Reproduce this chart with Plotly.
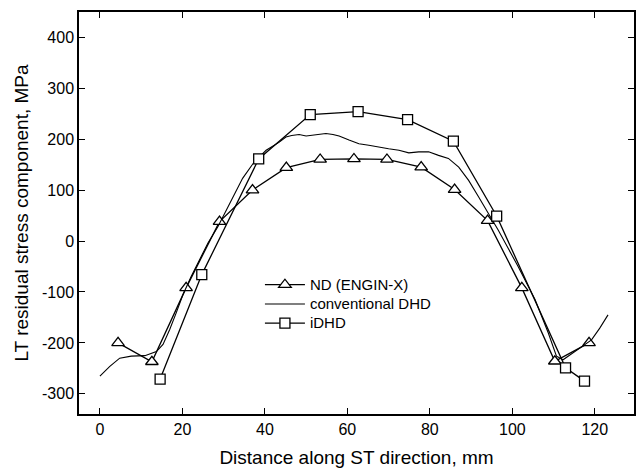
import plotly.graph_objects as go

# ND (ENGIN-X)
nd_x = [4.4, 12.6, 20.9, 29.0, 37.0, 45.2, 53.4, 61.6, 69.6, 77.9, 86.0, 94.0, 102.3, 110.3, 118.6]
nd_y = [-200, -237, -92, 38, 100, 144, 160, 161, 160, 145, 101, 40, -92, -236, -200]

# conventional DHD
dhd_x = [0, 2.4, 4.8, 7.6, 10.9, 13.7, 15.3, 16.9, 18.5, 20.1, 22.1, 23.7, 26.2, 28.6,
         32.2, 34.6, 37.4, 40.3, 43.5, 45.1, 46.5, 48.3, 50.0, 51.5, 53.0, 54.8, 56.5, 58.0,
         60.4, 62.8, 65.2, 67.6, 70.0, 72.5, 74.9, 77.3, 79.7, 82.1, 84.5, 87.0,
         89.4, 91.8, 94.2, 96.6, 101.4, 105.5, 108.7, 110.7, 112.3, 115.9, 119.2, 121.2, 123.2]
dhd_y = [-265, -246, -230, -226, -225, -217, -203, -174, -141, -106, -70, -44, -4, 28,
         87, 123, 155, 178, 194, 204, 207, 209, 206, 208, 210, 211, 209, 206,
         198, 191, 188, 184, 181, 178, 173, 175, 175, 168, 162, 145,
         119, 87, 54, 21, -50, -115, -180, -226, -233, -213, -194, -171, -145]

# iDHD
idhd_x = [14.6, 24.7, 38.5, 51.0, 62.6, 74.6, 85.7, 96.2, 112.9, 117.5]
idhd_y = [-271, -66, 161, 248, 254, 238, 196, 49, -249, -275]

x_ticks = [0, 20, 40, 60, 80, 100, 120]
y_ticks = [-300, -200, -100, 0, 100, 200, 300, 400]
y_tick_labels = ["-300", "-200", "-100", "0", "100", "200", "300", "400"]

FONT = "Liberation Sans, Arial, sans-serif"


def leg(name):
    return '<span style="font-size:15px">' + name + '</span>'


fig = go.Figure()
fig.add_trace(go.Scatter(
    x=nd_x, y=nd_y, mode="lines+markers", name=leg("ND (ENGIN-X)"),
    line=dict(color="black", width=1.3),
    marker=dict(symbol="triangle-up", size=11, color="white",
                line=dict(color="black", width=1.3)),
))
fig.add_trace(go.Scatter(
    x=dhd_x, y=dhd_y, mode="lines", name=leg("conventional DHD"),
    line=dict(color="black", width=1.1),
))
fig.add_trace(go.Scatter(
    x=idhd_x, y=idhd_y, mode="lines+markers", name=leg("iDHD"),
    line=dict(color="black", width=1.3),
    marker=dict(symbol="square", size=10, color="white",
                line=dict(color="black", width=1.3)),
))

axis_common = dict(
    showgrid=False, zeroline=False, showline=True, linecolor="black", linewidth=1.5,
    mirror="ticks", ticks="inside", ticklen=6, tickwidth=1.2, tickcolor="black",
    tickfont=dict(family=FONT, size=16, color="black"),
)
fig.update_xaxes(range=[-5.07, 129.5], tickvals=x_ticks,
                 title=dict(text="Distance along ST direction, mm",
                            font=dict(family=FONT, size=19, color="black"), standoff=14),
                 **axis_common)
fig.update_yaxes(range=[-339.5, 449.4], tickvals=y_ticks, ticktext=y_tick_labels,
                 title=dict(text="LT residual stress component, MPa",
                            font=dict(family=FONT, size=19, color="black"), standoff=8),
                 **axis_common)

fig.update_layout(
    width=637, height=472,
    margin=dict(l=79, r=1, t=12, b=58),
    plot_bgcolor="white", paper_bgcolor="white",
    font=dict(family=FONT, color="black"),
    legend=dict(x=0.326, y=0.358, xanchor="left", yanchor="top",
                bgcolor="rgba(0,0,0,0)", borderwidth=0,
                font=dict(family=FONT, size=12.5, color="black"),
                tracegroupgap=0, itemwidth=40),
)

fig.write_html("out.html")
